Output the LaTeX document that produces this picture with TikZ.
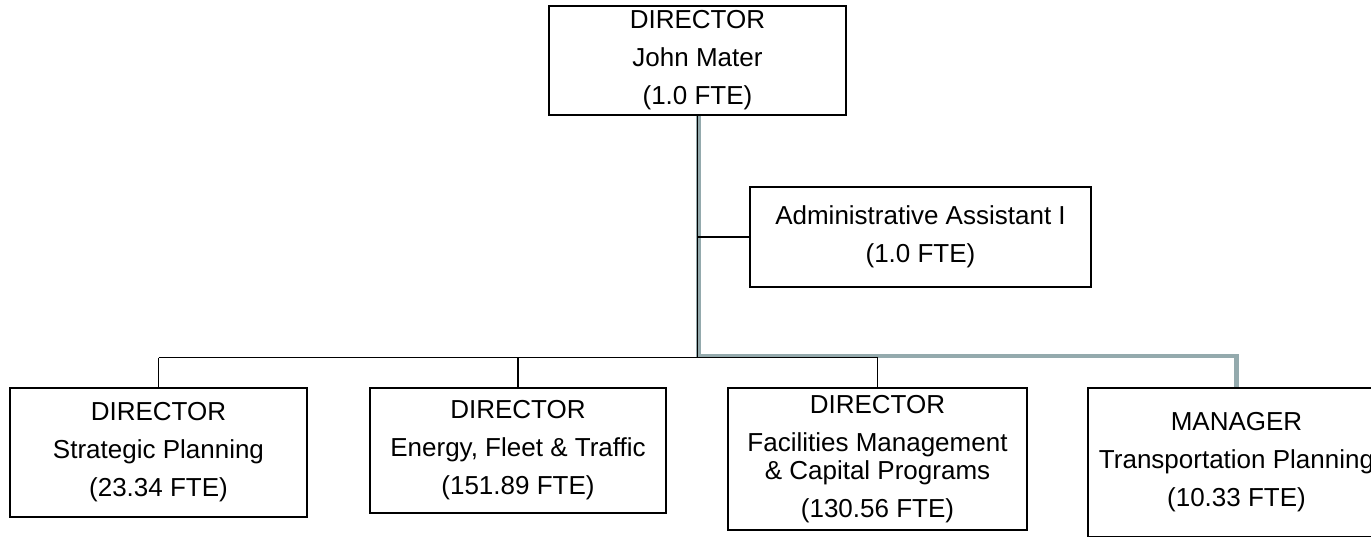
\documentclass[tikz,border=0pt]{standalone}
\usepackage{fontspec}
\setmainfont{Liberation Sans}
\begin{document}
\begin{tikzpicture}[x=1pt,y=-1pt,
  unit/.style={draw=black,line width=1.6pt,rectangle,inner sep=0pt,
    align=center,font=\fontsize{26}{38}\selectfont},
  link/.style={draw=black,line width=1.6pt},
  graylink/.style={draw={rgb,255:red,148;green,170;blue,173},line width=4.5pt}]
  \useasboundingbox (0,0) rectangle (1371,536);

  % boxes
  \node[unit,minimum width=297pt,minimum height=109pt] (top) at (697.5,60.5)
    {DIRECTOR\\John Mater\\(1.0 FTE)};
  \node[unit,minimum width=341pt,minimum height=100pt] (admin) at (920.5,237)
    {Administrative Assistant I\\(1.0 FTE)};
  \node[unit,minimum width=297pt,minimum height=129pt] (sp) at (158.5,452.5)
    {DIRECTOR\\Strategic Planning\\(23.34 FTE)};
  \node[unit,minimum width=296pt,minimum height=125pt] (eft) at (518,450.5)
    {DIRECTOR\\Energy, Fleet \& Traffic\\(151.89 FTE)};
  \node[unit,minimum width=299pt,minimum height=142pt] (fm) at (877.5,459)
    {DIRECTOR\\Facilities Management\\[-10pt]\& Capital Programs\\(130.56 FTE)};
  \node[unit,minimum width=297pt,minimum height=149pt] (tp) at (1236.5,462.5)
    {MANAGER\\Transportation Planning\\(10.33 FTE)};

  % bus levels
  \coordinate (bus) at (0,357.5);
  \coordinate (gbus) at (0,356);

  % grey reporting line to the transportation manager
  \draw[graylink] ([xshift=1pt]top.south) |- (tp.north |- gbus) -- (tp.north);

  % black reporting lines
  \draw[link] (top.south) -- (top.south |- bus);
  \draw[link] (admin.west -| top.south) -- (admin.west);
  \draw[link] (sp.north |- bus) -- (fm.north |- bus);
  \draw[link] (sp.north |- bus) -- (sp.north);
  \draw[link] (eft.north |- bus) -- (eft.north);
  \draw[link] (fm.north |- bus) -- (fm.north);
\end{tikzpicture}
\end{document}
